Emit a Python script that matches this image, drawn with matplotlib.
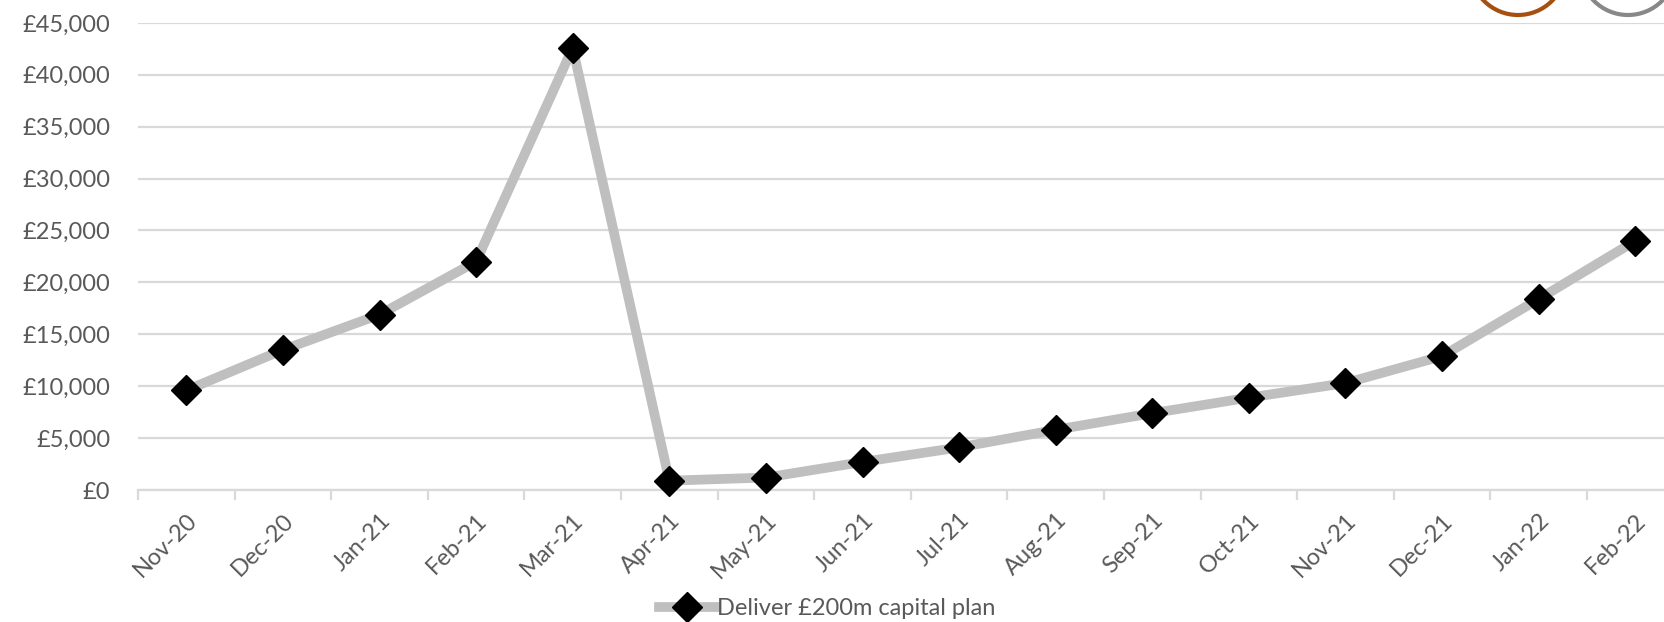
import matplotlib.pyplot as plt
from matplotlib.patches import Circle
from matplotlib.ticker import FuncFormatter, MultipleLocator, FixedLocator

# 데이터
months = ["Nov-20", "Dec-20", "Jan-21", "Feb-21", "Mar-21", "Apr-21", "May-21", "Jun-21",
          "Jul-21", "Aug-21", "Sep-21", "Oct-21", "Nov-21", "Dec-21", "Jan-22", "Feb-22"]
values = [9600, 13500, 16900, 22000, 42600, 900, 1200, 2700,
          4100, 5800, 7400, 8900, 10300, 12900, 18400, 24000]
series_name = "Deliver £200m capital plan"

plt.rcParams['font.family'] = ['Lato', 'DejaVu Sans']
text_color = "#595959"
grid_color = "#D9D9D9"
fs = 17

fig = plt.figure(figsize=(16.64, 6.22), dpi=100)
ax = fig.add_axes([138 / 1664, 0.2122, 16 * 96.6 / 1664, 0.751])

x = list(range(len(months)))
ax.plot(x, values, color="#BFBFBF", linewidth=7, marker="D", markersize=15,
        markerfacecolor="black", markeredgecolor="black", label=series_name,
        solid_joinstyle="round", zorder=3, clip_on=False)

ax.set_xlim(-0.5, len(months) - 0.5)
ax.set_ylim(0, 45000)
ax.yaxis.set_major_locator(MultipleLocator(5000))
ax.yaxis.set_major_formatter(FuncFormatter(lambda v, p: f"£{v:,.0f}"))
ax.grid(axis="y", color=grid_color, linewidth=1.6, zorder=0)

ax.set_xticks(x)
ax.set_xticklabels(months, rotation=45, ha="right", rotation_mode="anchor")
ax.xaxis.set_minor_locator(FixedLocator([i - 0.5 for i in range(len(months) + 1)]))
ax.tick_params(axis="x", which="major", length=0, pad=14, labelsize=fs, labelcolor=text_color)
ax.tick_params(axis="x", which="minor", length=7, width=1.6, color=grid_color)
ax.tick_params(axis="y", length=0, pad=20, labelsize=fs, labelcolor=text_color)

for s in ["top", "right", "left"]:
    ax.spines[s].set_visible(False)
ax.spines["bottom"].set_color(grid_color)
ax.spines["bottom"].set_linewidth(1.6)

leg = fig.legend(loc="center", bbox_to_anchor=(0.497, 0.022), frameon=False, fontsize=fs,
                 handlelength=2.4, handletextpad=0.05, labelcolor=text_color)

# 오른쪽 위 잘린 원 (인치 단위)
fig.patches.append(Circle((15.18, 6.22 + 0.33), 0.48, transform=fig.dpi_scale_trans,
                          fill=False, edgecolor="#A5500F", linewidth=3, figure=fig))
fig.patches.append(Circle((16.28, 6.22 + 0.33), 0.48, transform=fig.dpi_scale_trans,
                          fill=False, edgecolor="#888888", linewidth=3, figure=fig))

fig.savefig("out.png", dpi=100)
